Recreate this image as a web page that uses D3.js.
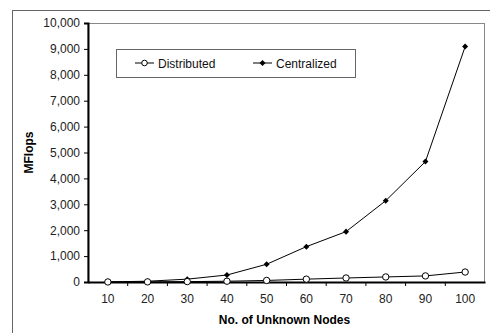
<!DOCTYPE html>
<html>
<head>
<meta charset="utf-8">
<script src="https://cdn.jsdelivr.net/npm/d3@7"></script>
<style>
  body { margin: 0; background: #fff; }
  svg { display: block; font-family: "Liberation Sans", Arial, sans-serif; }
</style>
</head>
<body>
<div id="chart"></div>
<script>
var w = 490,
    h = 333;

var nodes = ["10", "20", "30", "40", "50", "60", "70", "80", "90", "100"];
var distributed = [2, 5, 15, 30, 60, 110, 155, 195, 235, 385];
var centralized = [5, 30, 110, 270, 685, 1365, 1945, 3140, 4650, 9090];
var yTicks = [0, 1000, 2000, 3000, 4000, 5000, 6000, 7000, 8000, 9000, 10000];

var margin = { left: 88, right: 5, top: 23, bottom: 51 };

var svg = d3.select("#chart").append("svg")
    .attr("width", w)
    .attr("height", h);

// outer frame (top + left only visible)
svg.append("line")
    .attr("x1", 12).attr("y1", 10.5).attr("x2", w).attr("y2", 10.5)
    .attr("stroke", "#666").attr("stroke-width", 1);
svg.append("line")
    .attr("x1", 12.5).attr("y1", 10).attr("x2", 12.5).attr("y2", h)
    .attr("stroke", "#666").attr("stroke-width", 1);

var x = d3.scaleBand()
    .domain(nodes)
    .range([margin.left, w - margin.right]);

var y = d3.scaleLinear()
    .domain([0, 10000])
    .range([h - margin.bottom, margin.top]);

// plot area border
svg.append("rect")
    .attr("x", margin.left)
    .attr("y", margin.top + 0.5)
    .attr("width", w - margin.right - margin.left - 0.5)
    .attr("height", h - margin.bottom - margin.top)
    .attr("fill", "none")
    .attr("stroke", "#888")
    .attr("stroke-width", 1);

// y axis
var yAxis = svg.append("g")
    .attr("transform", "translate(" + margin.left + ",0)")
    .call(d3.axisLeft(y).tickValues(yTicks).tickFormat(d3.format(",")).tickSize(4).tickPadding(4));
yAxis.select(".domain").attr("stroke", "#000").attr("stroke-width", 2);
yAxis.selectAll("text").attr("font-size", 12).attr("fill", "#222")
    .attr("font-family", "Liberation Sans, Arial, sans-serif");

// x axis with ticks at band boundaries
var xAxis = svg.append("g")
    .attr("transform", "translate(0," + (h - margin.bottom) + ")")
    .call(d3.axisBottom(x).tickSize(0).tickPadding(12));
xAxis.select(".domain").attr("stroke", "#000").attr("stroke-width", 2);
xAxis.selectAll("text").attr("font-size", 12).attr("fill", "#222")
    .attr("font-family", "Liberation Sans, Arial, sans-serif");
xAxis.selectAll(".bound")
    .data(nodes.slice(1))
    .enter().append("line")
    .attr("class", "bound")
    .attr("x1", function(d) { return x(d); })
    .attr("x2", function(d) { return x(d); })
    .attr("y1", 0).attr("y2", 4)
    .attr("stroke", "#000");

// axis titles
svg.append("text")
    .attr("x", (margin.left + w - margin.right) / 2 - 2)
    .attr("y", 324)
    .attr("text-anchor", "middle")
    .attr("font-size", 12)
    .attr("font-weight", "bold")
    .text("No. of Unknown Nodes");

svg.append("text")
    .attr("transform", "translate(33," + ((margin.top + h - margin.bottom) / 2) + ") rotate(-90)")
    .attr("text-anchor", "middle")
    .attr("font-size", 12)
    .attr("font-weight", "bold")
    .text("MFlops");

var line = d3.line()
    .x(function(d, i) { return x(nodes[i]) + x.bandwidth() / 2; })
    .y(function(d) { return y(d); });

// square rotated 45deg for an even diamond
var diamond = d3.symbol().type(d3.symbolSquare).size(18);

// centralized
svg.append("path")
    .datum(centralized)
    .attr("d", line)
    .attr("fill", "none")
    .attr("stroke", "#000")
    .attr("stroke-width", 1);
svg.selectAll(".cen")
    .data(centralized)
    .enter().append("path")
    .attr("class", "cen")
    .attr("d", diamond)
    .attr("transform", function(d, i) {
        return "translate(" + (x(nodes[i]) + x.bandwidth() / 2) + "," + y(d) + ") rotate(45)";
    })
    .attr("fill", "#000");

// distributed
svg.append("path")
    .datum(distributed)
    .attr("d", line)
    .attr("fill", "none")
    .attr("stroke", "#000")
    .attr("stroke-width", 1);
svg.selectAll(".dis")
    .data(distributed)
    .enter().append("circle")
    .attr("class", "dis")
    .attr("cx", function(d, i) { return x(nodes[i]) + x.bandwidth() / 2; })
    .attr("cy", function(d) { return y(d); })
    .attr("r", 3.2)
    .attr("fill", "#fff")
    .attr("stroke", "#000")
    .attr("stroke-width", 1);

// legend
var legend = svg.append("g");
legend.append("rect")
    .attr("x", 116.5).attr("y", 49.5)
    .attr("width", 239).attr("height", 28)
    .attr("fill", "#fff")
    .attr("stroke", "#666");

var items = [
    { name: "Distributed", x0: 135, mark: "circle" },
    { name: "Centralized", x0: 253, mark: "diamond" }
];
items.forEach(function(it) {
    var g = legend.append("g").attr("transform", "translate(" + it.x0 + ",63)");
    g.append("line").attr("x1", 0).attr("x2", 19).attr("y1", 0).attr("y2", 0)
        .attr("stroke", "#000");
    if (it.mark === "circle") {
        g.append("circle").attr("cx", 9.5).attr("cy", 0).attr("r", 2.8)
            .attr("fill", "#fff").attr("stroke", "#000");
    } else {
        g.append("path").attr("d", diamond).attr("transform", "translate(9.5,0) rotate(45)")
            .attr("fill", "#000");
    }
    g.append("text").attr("x", 23).attr("y", 4.5)
        .attr("font-size", 12)
        .attr("fill", "#111")
        .text(it.name);
});
</script>
</body>
</html>
